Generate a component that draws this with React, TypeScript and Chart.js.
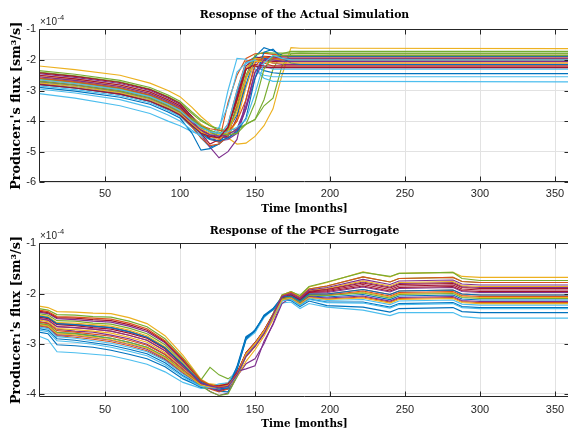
import React, { useEffect, useRef } from 'react';
import { Chart, registerables } from 'chart.js';

Chart.register(...registerables);

// MATLAB default colour order
const COLORS = ['#0072BD', '#D95319', '#EDB120', '#7E2F8E', '#77AC30', '#4DBEEE', '#A2142F'];

const TOP_TITLE = 'Resopnse of the Actual Simulation';
const BOT_TITLE = 'Response of the PCE Surrogate';
const X_LABEL = 'Time [months]';
const Y_LABEL = "Producer\u2081's flux [sm\u00B3/s]";

const X_TICKS = [50, 100, 150, 200, 250, 300, 350];
const TOP_Y_TICKS = [-6, -5, -4, -3, -2, -1];
const BOT_Y_TICKS = [-4, -3, -2, -1];

// ---------- Actual simulation (values x 1e-4) ----------
const TOP_MONTHS = [6, 30, 60, 80, 92, 100, 108, 114, 120, 126, 132, 138, 144, 150, 156, 162, 168, 174, 180, 200, 360];
const top00 = [-2.75, -2.87, -3.07, -3.30, -3.55, -3.75, -4.15, -4.55, -4.85, -4.75, -4.30, -3.10, -2.10, -1.90, -1.95, -2.00, -2.03, -2.05, -2.05, -2.05, -2.05];
const top01 = [-2.55, -2.67, -2.87, -3.10, -3.35, -3.55, -3.95, -4.30, -4.55, -4.70, -3.40, -2.50, -1.95, -1.80, -1.78, -1.82, -1.85, -1.85, -1.85, -1.85, -1.85];
const top02 = [-2.20, -2.32, -2.50, -2.76, -3.00, -3.20, -3.55, -3.85, -4.10, -4.35, -4.55, -4.75, -4.72, -4.50, -4.15, -3.60, -2.50, -1.60, -1.62, -1.62, -1.63];
const top03 = [-2.65, -2.77, -2.97, -3.20, -3.45, -3.65, -4.05, -4.45, -4.85, -5.20, -5.00, -4.60, -3.30, -2.10, -1.90, -1.95, -2.00, -2.00, -2.00, -2.00, -2.00];
const top04 = [-2.35, -2.47, -2.67, -2.90, -3.15, -3.35, -3.70, -3.95, -4.15, -4.30, -4.40, -4.30, -4.10, -3.95, -3.30, -2.30, -1.80, -1.72, -1.72, -1.72, -1.72];
const top05 = [-3.10, -3.25, -3.50, -3.75, -4.00, -4.15, -4.35, -4.45, -4.50, -4.30, -3.00, -1.95, -1.98, -2.30, -2.60, -2.70, -2.70, -2.70, -2.70, -2.70, -2.72];
const top06 = [-2.60, -2.72, -2.92, -3.15, -3.40, -3.60, -3.95, -4.25, -4.45, -4.55, -4.50, -3.90, -2.60, -1.95, -1.88, -1.90, -1.90, -1.90, -1.90, -1.90, -1.90];
const top07 = [-2.90, -3.02, -3.22, -3.45, -3.70, -3.90, -4.40, -4.95, -4.90, -4.75, -4.50, -3.40, -2.30, -2.20, -2.35, -2.42, -2.45, -2.45, -2.45, -2.45, -2.45];
const top08 = [-2.70, -2.82, -3.02, -3.25, -3.50, -3.70, -4.10, -4.40, -4.60, -4.50, -4.10, -3.00, -2.05, -1.95, -2.05, -2.10, -2.10, -2.10, -2.10, -2.10, -2.10];
const top09 = [-2.50, -2.62, -2.82, -3.05, -3.30, -3.50, -3.85, -4.10, -4.30, -4.45, -4.45, -4.00, -2.90, -2.05, -1.90, -1.95, -1.95, -1.95, -1.95, -1.95, -1.95];
const top10 = [-2.45, -2.57, -2.77, -3.00, -3.25, -3.45, -3.85, -4.20, -4.55, -4.65, -4.60, -4.40, -3.60, -2.40, -2.00, -2.10, -2.15, -2.15, -2.15, -2.15, -2.15];
const top11 = [-2.40, -2.52, -2.72, -2.95, -3.20, -3.40, -3.75, -4.00, -4.15, -4.25, -4.30, -4.25, -4.10, -3.95, -3.50, -3.25, -2.20, -1.80, -1.78, -1.80, -1.80];
const top12 = [-2.85, -2.97, -3.17, -3.40, -3.65, -3.85, -4.20, -4.40, -4.45, -4.20, -3.50, -2.40, -2.10, -2.30, -2.50, -2.55, -2.55, -2.55, -2.55, -2.55, -2.55];
const top13 = [-2.42, -2.54, -2.74, -2.97, -3.22, -3.42, -3.85, -4.25, -4.60, -4.65, -4.30, -3.20, -2.20, -1.95, -2.00, -2.05, -2.05, -2.05, -2.05, -2.05, -2.05];
const top14 = [-2.60, -2.72, -2.92, -3.15, -3.40, -3.60, -3.95, -4.20, -4.35, -4.40, -4.30, -3.80, -2.80, -1.90, -1.60, -1.70, -1.85, -1.88, -1.88, -1.88, -1.88];
const top15 = [-2.80, -2.92, -3.12, -3.35, -3.60, -3.80, -4.20, -4.55, -4.80, -4.75, -4.50, -3.50, -2.30, -1.95, -2.10, -2.20, -2.20, -2.20, -2.20, -2.20, -2.20];
const top16 = [-2.65, -2.77, -2.97, -3.20, -3.45, -3.65, -4.00, -4.25, -4.40, -4.45, -4.20, -3.40, -2.30, -1.95, -1.98, -2.00, -2.00, -2.00, -2.00, -2.00, -2.00];
const top17 = [-2.55, -2.67, -2.87, -3.10, -3.35, -3.55, -3.90, -4.15, -4.35, -4.50, -4.55, -4.30, -3.60, -2.60, -2.00, -1.90, -1.95, -1.95, -1.95, -1.95, -1.95];
const top18 = [-2.62, -2.74, -2.94, -3.17, -3.42, -3.62, -3.90, -4.15, -4.35, -4.50, -4.30, -3.60, -2.50, -1.85, -1.75, -1.78, -1.78, -1.78, -1.78, -1.78, -1.78];
const top19 = [-2.95, -3.08, -3.30, -3.55, -3.80, -4.00, -4.30, -4.50, -4.60, -4.50, -4.10, -3.00, -2.10, -2.00, -2.20, -2.30, -2.30, -2.30, -2.30, -2.30, -2.30];
const top20 = [-2.50, -2.62, -2.82, -3.05, -3.30, -3.50, -3.95, -4.40, -4.75, -4.60, -4.20, -3.30, -2.30, -2.20, -2.25, -2.25, -2.25, -2.25, -2.25, -2.25, -2.25];
const top21 = [-2.80, -2.92, -3.12, -3.35, -3.60, -3.80, -4.15, -4.40, -4.60, -4.65, -4.55, -4.35, -3.90, -2.60, -1.75, -1.65, -1.95, -2.10, -2.15, -2.15, -2.15];
const top22 = [-2.60, -2.72, -2.92, -3.15, -3.40, -3.60, -3.95, -4.15, -4.25, -4.30, -4.35, -4.00, -3.30, -2.20, -1.90, -1.95, -1.98, -1.98, -1.98, -1.98, -1.98];
const top23 = [-2.75, -2.87, -3.07, -3.30, -3.55, -3.75, -4.10, -4.35, -4.50, -4.60, -4.35, -3.70, -2.60, -2.05, -2.05, -2.10, -2.10, -2.10, -2.10, -2.10, -2.10];
const top24 = [-2.70, -2.82, -3.02, -3.25, -3.50, -3.70, -4.05, -4.30, -4.45, -4.50, -4.45, -4.25, -3.50, -2.40, -2.00, -2.00, -2.05, -2.05, -2.05, -2.05, -2.05];
const top25 = [-2.70, -2.82, -3.02, -3.25, -3.50, -3.70, -3.95, -4.15, -4.30, -4.40, -4.45, -4.40, -4.10, -3.40, -2.30, -1.88, -1.85, -1.85, -1.85, -1.85, -1.85];
const top26 = [-2.65, -2.77, -2.97, -3.20, -3.45, -3.65, -4.00, -4.20, -4.35, -4.40, -4.35, -4.20, -3.95, -3.10, -2.10, -1.85, -1.95, -2.00, -2.00, -2.00, -2.00];
const top27 = [-2.80, -2.92, -3.12, -3.35, -3.60, -3.80, -4.15, -4.40, -4.50, -4.55, -4.20, -3.30, -2.30, -2.15, -2.20, -2.20, -2.20, -2.20, -2.20, -2.20, -2.20];
const TOP_SERIES = [top00, top01, top02, top03, top04, top05, top06, top07, top08, top09, top10, top11, top12, top13,
  top14, top15, top16, top17, top18, top19, top20, top21, top22, top23, top24, top25, top26, top27];

// ---------- PCE surrogate (values x 1e-4) ----------
const BOT_MONTHS = [6, 12, 18, 30, 42, 54, 66, 78, 90, 102, 108, 114, 120, 126, 132, 138, 144, 150, 156, 162, 168, 174, 180, 186, 198, 222, 240, 246, 282, 288, 300, 360];
const bot00 = [-2.60, -2.63, -2.78, -2.80, -2.84, -2.89, -2.97, -3.07, -3.26, -3.55, -3.68, -3.82, -3.88, -3.90, -3.86, -3.50, -2.90, -2.75, -2.45, -2.31, -2.09, -2.07, -2.19, -2.05, -2.07, -2.02, -2.12, -2.05, -2.03, -2.11, -2.13, -2.13];
const bot01 = [-2.50, -2.53, -2.66, -2.68, -2.71, -2.75, -2.83, -2.93, -3.14, -3.46, -3.62, -3.79, -3.84, -3.92, -3.88, -3.63, -3.22, -3.02, -2.76, -2.44, -2.10, -2.05, -2.16, -2.01, -2.01, -1.92, -2.02, -1.95, -1.93, -2.01, -2.03, -2.03];
const bot02 = [-2.25, -2.28, -2.36, -2.37, -2.39, -2.40, -2.48, -2.60, -2.84, -3.23, -3.47, -3.71, -3.81, -3.84, -3.82, -3.60, -3.22, -3.00, -2.74, -2.41, -2.03, -1.96, -2.05, -1.87, -1.78, -1.57, -1.67, -1.60, -1.58, -1.66, -1.68, -1.68];
const bot03 = [-2.56, -2.59, -2.71, -2.75, -2.77, -2.83, -2.90, -3.01, -3.21, -3.50, -3.66, -3.82, -3.95, -4.03, -3.98, -3.65, -3.40, -3.30, -3.00, -2.60, -2.14, -2.04, -2.14, -1.99, -1.98, -1.87, -1.97, -1.90, -1.88, -1.96, -1.98, -1.98];
const bot04 = [-2.40, -2.43, -2.54, -2.55, -2.59, -2.61, -2.69, -2.80, -3.02, -3.37, -3.56, -3.72, -3.47, -3.62, -3.70, -3.58, -3.22, -3.00, -2.76, -2.42, -2.05, -1.99, -2.08, -1.91, -1.85, -1.67, -1.77, -1.70, -1.68, -1.76, -1.78, -1.78];
const bot05 = [-2.85, -2.92, -3.16, -3.18, -3.21, -3.24, -3.32, -3.41, -3.56, -3.77, -3.83, -3.89, -3.89, -3.92, -3.88, -3.64, -3.22, -3.02, -2.78, -2.49, -2.19, -2.17, -2.30, -2.20, -2.27, -2.33, -2.44, -2.38, -2.38, -2.46, -2.49, -2.49];
const bot06 = [-2.45, -2.48, -2.60, -2.62, -2.65, -2.68, -2.76, -2.87, -3.08, -3.41, -3.59, -3.77, -3.84, -3.85, -3.82, -3.61, -3.18, -2.98, -2.74, -2.43, -2.08, -2.02, -2.12, -1.97, -1.94, -1.82, -1.92, -1.85, -1.83, -1.91, -1.93, -1.93];
const bot07 = [-2.77, -2.80, -3.02, -3.04, -3.07, -3.13, -3.21, -3.30, -3.46, -3.70, -3.78, -3.87, -3.88, -3.93, -3.90, -3.48, -2.88, -2.76, -2.44, -2.33, -2.14, -2.14, -2.26, -2.15, -2.24, -2.27, -2.37, -2.30, -2.28, -2.36, -2.38, -2.38];
const bot08 = [-2.65, -2.68, -2.84, -2.87, -2.91, -2.96, -3.04, -3.14, -3.32, -3.59, -3.71, -3.83, -3.86, -3.84, -3.80, -3.62, -3.25, -3.05, -2.80, -2.46, -2.13, -2.09, -2.20, -2.07, -2.11, -2.07, -2.17, -2.10, -2.08, -2.16, -2.18, -2.18];
const bot09 = [-2.53, -2.56, -2.70, -2.72, -2.75, -2.79, -2.87, -2.97, -3.18, -3.48, -3.64, -3.79, -3.80, -3.82, -3.78, -3.66, -3.35, -3.12, -2.85, -2.52, -2.13, -2.06, -2.17, -2.03, -2.04, -1.97, -2.07, -2.00, -1.98, -2.06, -2.08, -2.08];
const bot10 = [-2.37, -2.40, -2.50, -2.52, -2.55, -2.57, -2.65, -2.76, -2.98, -3.34, -3.54, -3.75, -3.83, -3.89, -3.87, -3.62, -3.24, -3.03, -2.78, -2.43, -2.07, -2.01, -2.11, -1.95, -1.91, -1.77, -1.87, -1.80, -1.78, -1.86, -1.88, -1.88];
const bot11 = [-2.30, -2.33, -2.42, -2.43, -2.46, -2.47, -2.55, -2.66, -2.90, -3.28, -3.50, -3.73, -3.82, -3.86, -3.83, -3.59, -3.19, -2.99, -2.74, -2.41, -2.03, -1.96, -2.04, -1.86, -1.77, -1.58, -1.66, -1.60, -1.58, -1.70, -1.74, -1.74];
const bot12 = [-2.67, -2.70, -2.86, -2.89, -2.94, -2.99, -3.07, -3.16, -3.34, -3.61, -3.72, -3.84, -3.86, -3.80, -3.78, -3.48, -2.92, -2.78, -2.48, -2.32, -2.11, -2.10, -2.22, -2.09, -2.14, -2.12, -2.22, -2.15, -2.13, -2.21, -2.23, -2.23];
const bot13 = [-2.47, -2.50, -2.62, -2.64, -2.68, -2.71, -2.79, -2.89, -3.10, -3.43, -3.60, -3.78, -3.88, -3.93, -3.89, -3.63, -3.21, -3.01, -2.76, -2.44, -2.09, -2.03, -2.13, -1.98, -1.96, -1.85, -1.95, -1.88, -1.86, -1.94, -1.96, -1.96];
const bot14 = [-2.70, -2.73, -2.90, -2.93, -2.98, -3.03, -3.11, -3.20, -3.38, -3.64, -3.74, -3.85, -3.87, -3.95, -3.96, -3.52, -2.92, -2.72, -2.46, -2.32, -2.12, -2.11, -2.23, -2.11, -2.17, -2.17, -2.27, -2.20, -2.18, -2.26, -2.28, -2.28];
const bot15 = [-2.57, -2.60, -2.74, -2.77, -2.81, -2.85, -2.93, -3.03, -3.22, -3.52, -3.66, -3.81, -3.90, -3.96, -3.90, -3.64, -3.26, -3.06, -2.80, -2.47, -2.11, -2.05, -2.16, -2.02, -2.03, -1.95, -2.05, -1.98, -1.96, -2.04, -2.06, -2.06];
const bot16 = [-2.43, -2.46, -2.58, -2.59, -2.62, -2.65, -2.73, -2.84, -3.06, -3.39, -3.58, -3.76, -3.84, -3.86, -3.84, -3.60, -3.20, -3.00, -2.75, -2.43, -2.07, -2.01, -2.10, -1.94, -1.90, -1.75, -1.85, -1.78, -1.76, -1.84, -1.86, -1.86];
const bot17 = [-2.63, -2.66, -2.82, -2.84, -2.88, -2.93, -3.01, -3.11, -3.30, -3.57, -3.70, -3.82, -3.88, -3.94, -3.86, -3.55, -3.50, -3.44, -2.95, -2.62, -2.20, -2.08, -2.19, -2.06, -2.09, -2.05, -2.15, -2.08, -2.06, -2.14, -2.16, -2.16];
const bot18 = [-2.60, -2.63, -2.78, -2.80, -2.85, -2.89, -2.97, -3.07, -3.26, -3.55, -3.68, -3.84, -3.95, -4.03, -4.00, -3.66, -3.24, -3.02, -2.77, -2.46, -2.12, -2.06, -2.17, -2.03, -2.04, -1.99, -2.09, -2.02, -2.00, -2.08, -2.10, -2.10];
const bot19 = [-2.73, -2.76, -2.94, -2.97, -3.01, -3.07, -3.15, -3.24, -3.42, -3.66, -3.76, -3.85, -3.87, -3.90, -3.87, -3.63, -3.24, -3.03, -2.78, -2.47, -2.15, -2.12, -2.24, -2.12, -2.18, -2.19, -2.29, -2.22, -2.20, -2.28, -2.30, -2.30];
const bot20 = [-2.35, -2.38, -2.48, -2.49, -2.52, -2.54, -2.62, -2.73, -2.96, -3.32, -3.53, -3.74, -3.83, -3.84, -3.80, -3.58, -3.18, -2.98, -2.73, -2.43, -2.07, -2.02, -2.12, -1.96, -1.92, -1.79, -1.89, -1.82, -1.80, -1.88, -1.90, -1.90];
const bot21 = [-2.45, -2.48, -2.60, -2.62, -2.65, -2.68, -2.76, -2.87, -3.08, -3.41, -3.59, -3.77, -3.84, -3.90, -3.88, -3.45, -2.86, -2.74, -2.43, -2.30, -2.07, -2.05, -2.15, -2.01, -2.01, -1.92, -2.02, -1.95, -1.93, -2.01, -2.03, -2.03];
const bot22 = [-2.33, -2.36, -2.46, -2.47, -2.49, -2.51, -2.59, -2.70, -2.94, -3.30, -3.52, -3.73, -3.82, -3.86, -3.84, -3.60, -3.20, -3.00, -2.75, -2.42, -2.05, -1.98, -2.08, -1.91, -1.85, -1.67, -1.77, -1.70, -1.68, -1.76, -1.78, -1.78];
const bot23 = [-2.62, -2.65, -2.80, -2.83, -2.87, -2.92, -3.00, -3.09, -3.28, -3.56, -3.69, -3.82, -3.86, -3.88, -3.84, -3.62, -3.20, -3.00, -2.75, -2.46, -2.13, -2.09, -2.21, -2.08, -2.12, -2.09, -2.19, -2.12, -2.10, -2.18, -2.20, -2.20];
const bot24 = [-2.50, -2.53, -2.66, -2.68, -2.71, -2.75, -2.83, -2.93, -3.14, -3.46, -3.62, -3.79, -3.84, -3.88, -3.85, -3.62, -3.25, -3.05, -2.80, -2.43, -2.06, -2.00, -2.10, -1.93, -1.88, -1.72, -1.82, -1.75, -1.73, -1.81, -1.83, -1.83];
const BOT_SERIES = [bot00, bot01, bot02, bot03, bot04, bot05, bot06, bot07, bot08, bot09, bot10, bot11, bot12,
  bot13, bot14, bot15, bot16, bot17, bot18, bot19, bot20, bot21, bot22, bot23, bot24];

const AXIS_COLOR = '#262626';
const GRID_COLOR = '#e2e2e2';
const LABEL_FONT = 'DejaVu Serif';
const TICK_FONT = 'Liberation Sans';

// draws MATLAB-like box, inward ticks and the x10^-4 exponent label
const matlabAxes = {
  id: 'matlabAxes',
  afterDatasetsDraw(chart: any) {
    const { ctx, chartArea: a, scales } = chart;
    const xs = scales.x;
    const ys = scales.y;
    ctx.save();
    ctx.strokeStyle = AXIS_COLOR;
    ctx.lineWidth = 1;
    const L = Math.round(a.left) + 0.5;
    const R = Math.round(a.right) - 0.5;
    const T = Math.round(a.top) + 0.5;
    const B = Math.round(a.bottom) - 0.5;
    ctx.beginPath();
    ctx.moveTo(L, T);
    ctx.lineTo(R, T);
    ctx.lineTo(R, B);
    ctx.lineTo(L, B);
    ctx.closePath();
    ctx.stroke();
    const tl = 5;
    ctx.beginPath();
    xs.ticks.forEach((t: any) => {
      const px = Math.round(xs.getPixelForValue(t.value)) + 0.5;
      ctx.moveTo(px, B);
      ctx.lineTo(px, B - tl);
      ctx.moveTo(px, T);
      ctx.lineTo(px, T + tl);
    });
    ys.ticks.forEach((t: any) => {
      const py = Math.round(ys.getPixelForValue(t.value)) + 0.5;
      ctx.moveTo(L, py);
      ctx.lineTo(L + tl, py);
      ctx.moveTo(R, py);
      ctx.lineTo(R - tl, py);
    });
    ctx.stroke();
    ctx.fillStyle = AXIS_COLOR;
    ctx.textAlign = 'left';
    ctx.textBaseline = 'alphabetic';
    ctx.font = `10px "${TICK_FONT}", Arial, sans-serif`;
    const bx = a.left + 1;
    const by = a.top - 4;
    ctx.fillText('\u00D710', bx, by);
    const w = ctx.measureText('\u00D710').width;
    ctx.font = `7.5px "${TICK_FONT}", Arial, sans-serif`;
    ctx.fillText('-4', bx + w + 0.5, by - 5);
    ctx.restore();
  },
};

function buildConfig(opts: {
  months: number[];
  series: number[][];
  title: string;
  yMin: number;
  yTicks: number[];
  canvasH: number;
  areaTop: number;
  areaBottom: number;
  xTickPad: number;
}): any {
  const titleSize = 10.8;
  const titleLH = titleSize * 1.2;
  const titlePadTop = 8.5;
  const titlePadBottom = opts.areaTop - titleLH - titlePadTop;
  const xScaleH = opts.canvasH - opts.areaBottom;
  return {
    type: 'line',
    data: {
      datasets: opts.series.map((s, i) => ({
        data: opts.months.map((m, j) => ({ x: m, y: s[j] })),
        borderColor: COLORS[i % COLORS.length],
        backgroundColor: COLORS[i % COLORS.length],
        borderWidth: 1.15,
        pointRadius: 0,
        pointHoverRadius: 0,
        fill: false,
        tension: 0,
        order: -i,
      })),
    },
    options: {
      responsive: false,
      animation: false,
      events: [],
      layout: { padding: { top: 0, left: 0, right: 2, bottom: 0 } },
      plugins: {
        legend: { display: false },
        tooltip: { enabled: false },
        title: {
          display: true,
          text: opts.title,
          fullSize: false,
          color: '#000',
          font: { family: LABEL_FONT, size: titleSize, weight: 'bold', lineHeight: 1.2 },
          padding: { top: titlePadTop, bottom: titlePadBottom },
        },
      },
      scales: {
        x: {
          type: 'linear',
          min: 6,
          max: 360,
          afterBuildTicks: (s: any) => {
            s.ticks = X_TICKS.map((v) => ({ value: v }));
          },
          afterFit: (s: any) => {
            s.height = xScaleH;
          },
          grid: { color: GRID_COLOR, lineWidth: 1, drawTicks: false },
          border: { display: false },
          ticks: {
            color: AXIS_COLOR,
            padding: opts.xTickPad,
            maxRotation: 0,
            autoSkip: false,
            font: { family: TICK_FONT, size: 11, lineHeight: 1.2 },
            callback: (v: any) => String(v),
          },
          title: {
            display: true,
            text: X_LABEL,
            color: '#000',
            font: { family: LABEL_FONT, size: 10.4, weight: 'bold', lineHeight: 1.2 },
            padding: { top: 0, bottom: 0 },
          },
        },
        y: {
          type: 'linear',
          min: opts.yMin,
          max: -1,
          afterBuildTicks: (s: any) => {
            s.ticks = opts.yTicks.map((v) => ({ value: v }));
          },
          afterFit: (s: any) => {
            s.width = 39;
          },
          grid: { color: GRID_COLOR, lineWidth: 1, drawTicks: false },
          border: { display: false },
          ticks: {
            color: AXIS_COLOR,
            padding: 3,
            autoSkip: false,
            font: { family: TICK_FONT, size: 11, lineHeight: 1.2 },
            callback: (v: any) => String(v),
          },
          title: {
            display: true,
            text: Y_LABEL,
            color: '#000',
            font: { family: LABEL_FONT, size: 12.8, weight: 'bold', lineHeight: 1.1 },
            padding: { top: 9.5, bottom: 0 },
          },
        },
      },
    },
    plugins: [matlabAxes],
  };
}

export default function App() {
  const topRef = useRef<HTMLCanvasElement>(null);
  const botRef = useRef<HTMLCanvasElement>(null);

  useEffect(() => {
    const c1 = new Chart(
      topRef.current as HTMLCanvasElement,
      buildConfig({
        months: TOP_MONTHS,
        series: TOP_SERIES,
        title: TOP_TITLE,
        yMin: -6,
        yTicks: TOP_Y_TICKS,
        canvasH: 216,
        areaTop: 29.3,
        areaBottom: 182.3,
        xTickPad: 5,
      })
    );
    const c2 = new Chart(
      botRef.current as HTMLCanvasElement,
      buildConfig({
        months: BOT_MONTHS,
        series: BOT_SERIES,
        title: BOT_TITLE,
        yMin: -4.055,
        yTicks: BOT_Y_TICKS,
        canvasH: 215,
        areaTop: 27.3,
        areaBottom: 180.7,
        xTickPad: 6.5,
      })
    );
    return () => {
      c1.destroy();
      c2.destroy();
    };
  }, []);

  return (
    <div
      style={{
        position: 'fixed',
        left: 0,
        top: 0,
        width: 568,
        height: 437,
        overflow: 'hidden',
        background: '#ffffff',
      }}
    >
      <canvas
        ref={topRef}
        width={572}
        height={216}
        style={{ position: 'absolute', left: 0, top: 0, width: 572, height: 216 }}
      />
      <canvas
        ref={botRef}
        width={572}
        height={215}
        style={{ position: 'absolute', left: 0, top: 216, width: 572, height: 215 }}
      />
    </div>
  );
}
